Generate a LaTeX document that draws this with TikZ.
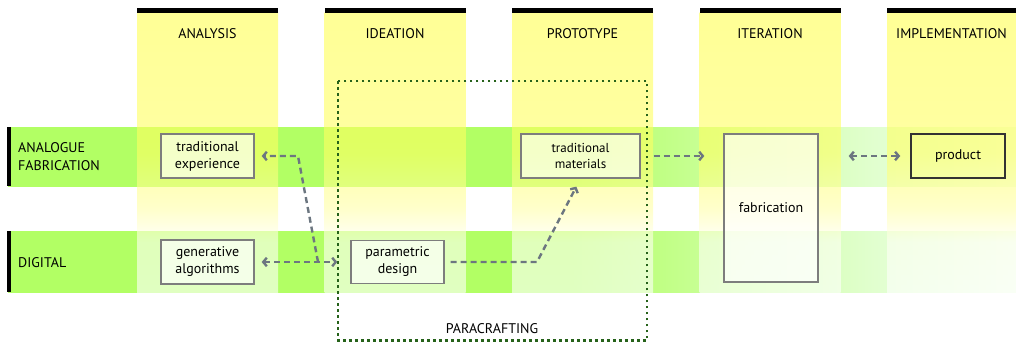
\documentclass[tikz,border=0pt]{standalone}
\usepackage{fontspec}
\setmainfont{PT Sans}
\usetikzlibrary{arrows.meta}

% palette
\definecolor{rowgreen}{RGB}{178,255,100}
\definecolor{rowmid}{RGB}{205,255,160}
\definecolor{rowpale}{RGB}{225,255,207}
\definecolor{rowend}{RGB}{242,255,232}
\definecolor{coltop}{RGB}{255,255,80}
\definecolor{cola}{RGB}{255,255,100}
\definecolor{colb}{RGB}{255,255,168}
\definecolor{colc}{RGB}{255,255,245}
\definecolor{arrowgray}{RGB}{108,118,128}
\definecolor{boxgray}{RGB}{125,125,125}
\definecolor{dotgreen}{RGB}{38,98,26}

% rows fade out to the right, columns fade out downwards
\pgfdeclarehorizontalshading{rowfade}{100bp}{color(0bp)=(rowgreen); color(25bp)=(rowgreen);
  color(53bp)=(rowgreen); color(61bp)=(rowmid); color(68bp)=(rowpale);
  color(75bp)=(rowend); color(100bp)=(rowend)}
\pgfdeclareverticalshading{colfade}{100bp}{color(0bp)=(white); color(25bp)=(white);
  color(34bp)=(colc); color(40bp)=(colb); color(50bp)=(cola);
  color(75bp)=(coltop); color(100bp)=(coltop)}

\begin{document}
\begin{tikzpicture}[x=1pt,y=-1pt,
  rowband/.style={shading=rowfade, draw=none},
  colband/.style={shading=colfade, draw=none, fill opacity=0.6},
  topbar/.style={fill=black, draw=none},
  sidebar/.style={fill=black, draw=none},
  heading/.style={font=\fontsize{14}{17}\selectfont, inner sep=0pt},
  rowlabel/.style={font=\fontsize{14}{18}\selectfont, align=left, anchor=west, inner sep=0pt},
  stage/.style={draw=boxgray, line width=1.3pt, fill=white, fill opacity=0.65, text opacity=1,
    font=\fontsize{14}{17}\selectfont, align=center, inner sep=0pt},
  flow/.style={draw=arrowgray, line width=2.4pt, dash pattern=on 6pt off 4pt},
  >={Straight Barb[length=3.6pt,width=8.5pt]},
  frame/.style={draw=dotgreen, line width=2.7pt, dash pattern=on 2.7pt off 3.3pt}
]
\useasboundingbox (0,0) rectangle (1016,342);

% horizontal bands
\path[rowband] (8,127) rectangle (1016,186);
\path[rowband] (8,231) rectangle (1016,292);
\fill[sidebar] (7,127) rectangle (10.5,186);
\fill[sidebar] (7,231) rectangle (10.5,292);

% phase columns
\foreach \x in {137,324.5,512,699.5,887}{
  \path[colband] (\x,13) rectangle ({min(\x+141,1016)},292);
  \fill[topbar] (\x,8) rectangle ({min(\x+141,1016)},13);
}

% phase headings
\node[heading] (hAna) at (207.5,34) {ANALYSIS};
\node[heading] (hIde) at (395,34) {IDEATION};
\node[heading] (hPro) at (582.5,34) {PROTOTYPE};
\node[heading] (hIte) at (770,34) {ITERATION};
\node[heading] (hImp) at (951.5,34) {IMPLEMENTATION};

% row headings
\node[rowlabel] (rAna) at (18,157) {ANALOGUE\\FABRICATION};
\node[rowlabel] (rDig) at (18,263) {DIGITAL};

% paracrafting frame
\draw[frame] (338,81) rectangle (647,340.2);
\node[heading] (para) at (492,329) {PARACRAFTING};

% stage boxes
\node[stage, minimum width=93pt, minimum height=44pt] (te) at (207.5,156) {traditional\\experience};
\node[stage, minimum width=93pt, minimum height=44pt] (ga) at (207.5,262) {generative\\algorithms};
\node[stage, minimum width=93pt, minimum height=43pt] (pd) at (397.5,262) {parametric\\design};
\node[stage, minimum width=119pt, minimum height=44pt, font=\fontsize{13}{16}\selectfont] (tm) at (580.5,156) {traditional\\materials};
\node[stage, minimum width=94pt, minimum height=148pt] (fab) at (771,208) {fabrication};
\node[stage, draw=black!80, line width=1.5pt, fill=none, minimum width=94pt, minimum height=44pt] (prod) at (958,156) {product};

% connectors
\coordinate (joint) at (318,262);
\coordinate (bendA) at (298,156);
\coordinate (bendB) at (537,262);
\draw[flow,->,shorten >=7pt] (joint) -- (bendA) -- (te.east);
\draw[flow,<->,shorten <=7pt,shorten >=13pt] (ga.east) -- (pd.west);
\draw[flow,->,shorten <=6pt,shorten >=9pt] (pd.east) -- (bendB) -- (tm.south);
\draw[flow,->,shorten <=13pt,shorten >=19pt] (tm.east) -- (tm.east -| fab.west);
\draw[flow,<->,shorten <=30pt,shorten >=10pt] (prod.west -| fab.east) -- (prod.west);
\end{tikzpicture}
\end{document}
